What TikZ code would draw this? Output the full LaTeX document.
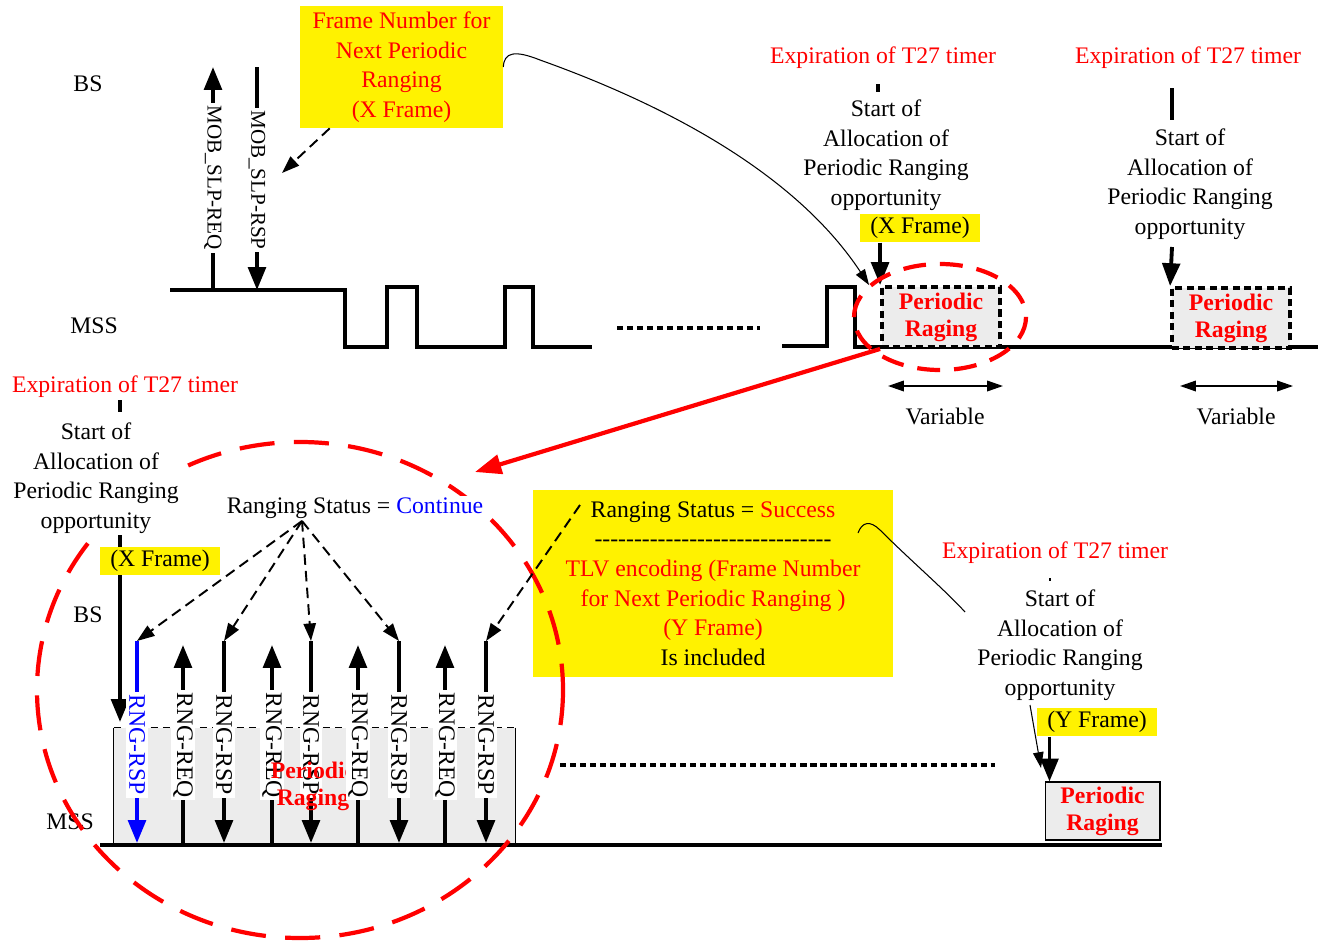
\documentclass[tikz,border=0pt]{standalone}
\usepackage{fontspec}
\setmainfont{Liberation Serif}
\usetikzlibrary{arrows.meta,positioning}

\newcommand\dashrow{\foreach \k in {1,...,30}{-\kern0pt}}

\tikzset{
	sig/.style={line width=2.2pt},
	big/.style={sig,-{Triangle[length=13pt,width=10pt]}},
	hint/.style={line width=1.1pt,dash pattern=on 6pt off 3.5pt,-{Triangle[length=10pt,width=7pt]}},
	thinarr/.style={line width=0.6pt,-{Triangle[length=9pt,width=6pt]}},
	span/.style={line width=0.9pt,{Triangle[length=9pt,width=6pt]}-{Triangle[length=9pt,width=6pt]}},
	msg/.style={rotate=-90,fill=white,inner sep=1.5pt},
	note/.style={align=center},
	tag/.style={fill=yellow,inner xsep=6pt,inner ysep=2pt},
	slotbox/.style={fill=gray!15,draw,line width=0.6pt,inner sep=0pt},
	dashslot/.style={fill=gray!15,draw,line width=2.2pt,dash pattern=on 4pt off 2.5pt,inner sep=0pt},
	pr/.style={text=red,font=\fontsize{13.5}{15.5}\selectfont\bfseries,align=center},
	ring/.style={red,line width=2.4pt},
	dots/.style={line width=2.6pt,dash pattern=on 3.5pt off 2.2pt},
}

\begin{document}
\begin{tikzpicture}[x=0.02cm,y=-0.02cm,every node/.style={font=\fontsize{13.5}{16.8}\selectfont}]
		\useasboundingbox (0,0) rectangle (1321,943);
		%
		\node (bs1) at (88,84) {BS};
		\node (mss1) at (94,326) {MSS};
		\draw[sig] (170,290) -- (345,290) -- (345,347) -- (387,347) -- (387,287) -- (417,287) -- (417,347)
			-- (505,347) -- (505,287) -- (533,287) -- (533,347) -- (592,347);
		\draw[dots] (617,328) -- (760,328);
		\draw[sig] (782,346) -- (827,346) -- (827,287) -- (855,287) -- (855,347) -- (1318,347);
		%
		\coordinate (reqlo) at (213,290);   \coordinate (reqhi) at (213,67);
		\coordinate (rsphi) at (257,67);   \coordinate (rsplo) at (257,290);
		\draw[big] (reqlo) -- (reqhi);
		\draw[big] (rsphi) -- (rsplo);
		\node[msg,font=\fontsize{12}{14}\selectfont] (slpreq) at (213,178) {MOB\_SLP-REQ};
		\node[msg,font=\fontsize{12}{14}\selectfont] (slprsp) at (257,180) {MOB\_SLP-RSP};
		%
		\node[fill=yellow,text=red,align=center,minimum width=4.06cm,minimum height=2.32cm] (fnum) at (401.5,67)
			{Frame Number for\\Next Periodic\\Ranging\\(X Frame)};
		\coordinate (fnumtip) at (282,173);
		\draw[hint] ([xshift=0.6cm]fnum.south west) -- (fnumtip);
		%
		\node[red] (exp1) at (883,58) {Expiration of T27 timer};
		\node[red] (exp2) at (1188,58) {Expiration of T27 timer};
		\draw[sig] (878,84) -- (878,92);
		\draw[sig] (1172,88) -- (1172,120);
		\node[note] (start1) at (886,155) {Start of\\Allocation of\\Periodic Ranging\\opportunity};
		\node[note] (start2) at (1190,184) {Start of\\Allocation of\\Periodic Ranging\\opportunity};
		\node[tag] (xf1) at (920,228) {(X Frame)};
		%
		\node[dashslot,pr,minimum width=2.36cm,minimum height=1.2cm] (slot1) at (941,317) {Periodic\\Raging};
		\node[dashslot,pr,minimum width=2.36cm,minimum height=1.2cm] (slot2) at (1231,318) {Periodic\\Raging};
		\draw[big] (slot1.north west |- xf1.south) -- (slot1.north west);
		\coordinate (sa2) at (1172,247);
		\draw[big] (sa2) -- (slot2.north west);
		\draw[ring,dash pattern=on 13pt off 8pt] (940,317) ellipse (86 and 53);
		%
		\coordinate (v1a) at (888,386);   \coordinate (v1b) at (1003,386);
		\coordinate (v2a) at (1180,386);   \coordinate (v2b) at (1293,386);
		\draw[span] (v1a) -- (v1b);
		\draw[span] (v2a) -- (v2b);
		\node (var1) at (945,416) {Variable};
		\node (var2) at (1236,416) {Variable};
		%
		\draw[thinarr] (fnum.east) .. controls (504,52) and (515,50) .. (540,60)
			.. controls (680,110) and (800,180) .. ([xshift=-0.22cm]slot1.north west);
		%
		\coordinate (ringtip) at (475,472);
		\draw[ring,-{Triangle[length=15pt,width=11pt]}] (slot1.south west) -- (ringtip);
		%
		% bottom: the ranging burst
		\node[red] (exp3) at (125,387) {Expiration of T27 timer};
		\draw[sig] (120,400) -- (120,412);
		\coordinate (xa2) at (120,527);   \coordinate (xb2) at (120,722);
		\draw[big] (xa2) -- (xb2);
		\node[tag] (xf2) at (160,561) {(X Frame)};
		\node (bs2) at (88,615) {BS};
		\node (mss2) at (70,822) {MSS};
		%
		\node[fill=gray!15,minimum width=8.02cm,minimum height=2.3cm,inner sep=0pt] (burst) at (314.5,785.5) {};
		\draw[line width=0.6pt] (burst.south west) -- (burst.north west);
		\draw[line width=0.6pt,dash pattern=on 4pt off 3pt] (burst.north west) -- (burst.north east);
		\draw[line width=0.6pt] (burst.north east) -- (burst.south east);
		\draw[sig] (100,845) -- (1162,845);
		%
		\coordinate (r1t) at (137,641);   \coordinate (r1b) at (137,843);
		\coordinate (r2t) at (183,645);   \coordinate (r2b) at (183,843);
		\coordinate (r3t) at (224,641);   \coordinate (r3b) at (224,843);
		\coordinate (r4t) at (272,645);   \coordinate (r4b) at (272,843);
		\coordinate (r5t) at (311,641);   \coordinate (r5b) at (311,843);
		\coordinate (r6t) at (358,645);   \coordinate (r6b) at (358,843);
		\coordinate (r7t) at (399,641);   \coordinate (r7b) at (399,843);
		\coordinate (r8t) at (445,645);   \coordinate (r8b) at (445,843);
		\coordinate (r9t) at (486,641);   \coordinate (r9b) at (486,843);
		\draw[big,blue] (r1t) -- (r1b);
		\draw[big] (r2b) -- (r2t);
		\draw[big] (r3t) -- (r3b);
		\draw[big] (r4b) -- (r4t);
		\draw[big] (r5t) -- (r5b);
		\draw[big] (r6b) -- (r6t);
		\draw[big] (r7t) -- (r7b);
		\draw[big] (r8b) -- (r8t);
		\draw[big] (r9t) -- (r9b);
		\node[msg,text=blue] (m1) at (137,745) {RNG-RSP};
		\node[msg] (m2) at (183,745) {RNG-REQ};
		\node[msg] (m3) at (224,745) {RNG-RSP};
		\node[msg] (m4) at (272,745) {RNG-REQ};
		\node[msg] (m5) at (311,745) {RNG-RSP};
		\node[pr] (burstpr) at (313,786) {Periodic\\Raging};
		\node[msg] (m6) at (358,745) {RNG-REQ};
		\node[msg] (m7) at (399,745) {RNG-RSP};
		\node[msg] (m8) at (445,745) {RNG-REQ};
		\node[msg] (m9) at (486,745) {RNG-RSP};
		%
		\node[fill=yellow,align=center,minimum width=7.2cm,minimum height=3.74cm] (succ) at (713,583.5)
			{Ranging Status = \textcolor{red}{Success}\\ \dashrow\\
			\textcolor{red}{TLV encoding (Frame Number}\\ \textcolor{red}{for Next Periodic Ranging )}\\
			\textcolor{red}{(Y Frame)}\\ Is included};
		\draw[ring,dash pattern=on 20pt off 11pt] (300,690) ellipse (263 and 248);
		%
		\node[note,fill=white,inner sep=1pt] (start3) at (96,478) {Start of\\Allocation of\\Periodic Ranging\\opportunity};
		\node[fill=white,inner sep=1pt] (stat1) at (355,508) {Ranging Status = \textcolor{blue}{Continue}};
		\coordinate (fan) at (302,521);
		\draw[hint] (fan) -- (r1t);
		\draw[hint] (fan) -- (r3t);
		\draw[hint] (fan) -- (r5t);
		\draw[hint] (fan) -- (r7t);
		\coordinate (succfan) at (580,505);
		\draw[hint] (succfan) -- (r9t);
		%
		\draw[dots] (560,765) -- (995,765);
		\draw[line width=0.6pt] (858,533) .. controls (862,522) and (870,520) .. (880,530)
			.. controls (910,560) and (945,590) .. (965,612);
		\node[red] (exp4) at (1055,553) {Expiration of T27 timer};
		\draw[line width=1pt] (1050,578) -- (1050,581);
		\node[note] (start4) at (1060,645) {Start of\\Allocation of\\Periodic Ranging\\opportunity};
		\node[tag] (yf) at (1097,722) {(Y Frame)};
		\node[slotbox,pr,minimum width=2.3cm,minimum height=1.16cm] (ybox) at (1102.5,811) {Periodic\\Raging};
		\coordinate (ya) at (1030,705);   \coordinate (yb) at (1041,768);
		\draw[thinarr] (ya) -- (yb);
		\draw[big] ([xshift=0.1cm]ybox.north west |- yf.south) -- ([xshift=0.1cm]ybox.north west);
		%
		\end{tikzpicture}
\end{document}
